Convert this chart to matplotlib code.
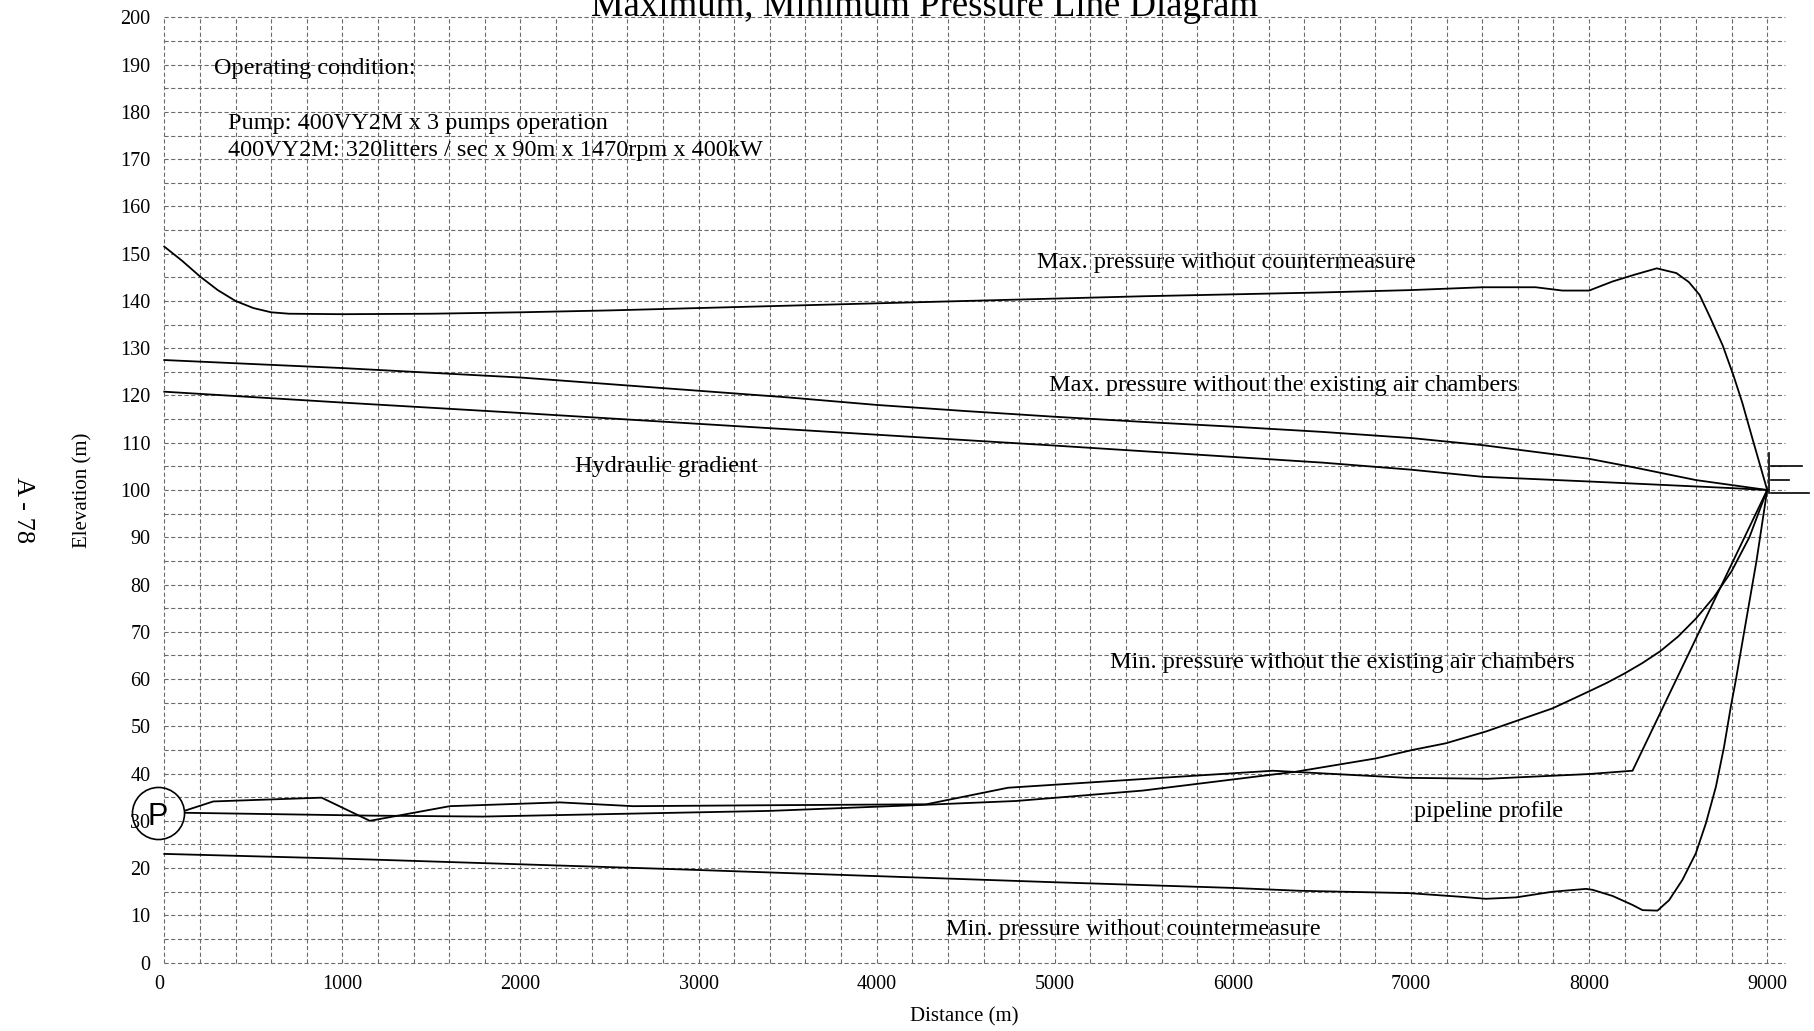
import matplotlib
matplotlib.use("Agg")
import matplotlib.pyplot as plt
from matplotlib.ticker import MultipleLocator

plt.rcParams['font.family'] = ['Liberation Serif', 'DejaVu Serif']
plt.rcParams['lines.scale_dashes'] = False

# ---- surge analysis results (distance in m, elevation in m) ----
max_counter_x = [0, 100, 200, 300, 400, 500, 600, 700, 1000, 1500, 2000, 2500, 3000,
                 3500, 4000, 4500, 5000, 5500, 6000, 6500, 7000, 7400, 7700, 7850,
                 8000, 8130, 8250, 8380, 8490, 8560, 8620, 8680, 8750, 8810, 8860,
                 8920, 9000]
max_counter_y = [151.5, 148.5, 145.2, 142.3, 140.0, 138.5, 137.6, 137.3, 137.2, 137.3,
                 137.6, 138.0, 138.5, 139.0, 139.5, 140.0, 140.5, 141.0, 141.4, 141.8,
                 142.3, 142.9, 142.9, 142.2, 142.2, 144.1, 145.5, 146.9, 145.9, 144.0,
                 141.3, 136.5, 130.6, 124.3, 118.5, 110.5, 100.0]

max_air_x = [0, 1000, 2000, 2500, 3000, 3500, 4000, 4500, 5000, 5500, 6000, 6500,
             7000, 7400, 8000, 8250, 8600, 9000]
max_air_y = [127.5, 125.8, 123.8, 122.4, 121.0, 119.6, 118.0, 116.7, 115.5, 114.4,
             113.4, 112.3, 111.0, 109.5, 106.6, 104.8, 102.1, 100.0]

hgl_x = [0, 1000, 2000, 3000, 4000, 5000, 6000, 6500, 7000, 7400, 8000, 8800, 9000]
hgl_y = [120.8, 118.5, 116.3, 114.0, 111.7, 109.4, 107.0, 105.8, 104.3, 102.8,
         101.8, 100.4, 100.0]

min_air_x = [120, 1154, 1790, 2729, 3399, 4279, 4784, 5494, 6355, 6802, 7009, 7195,
             7421, 7795, 8000, 8100, 8200, 8300, 8400, 8500, 8600, 8700, 8800, 8900,
             9000]
min_air_y = [31.7, 31.1, 30.9, 31.6, 32.1, 33.4, 34.2, 36.4, 40.4, 43.2, 45.0, 46.4,
             48.9, 53.8, 57.4, 59.2, 61.2, 63.4, 65.9, 69.0, 72.8, 77.3, 82.8, 90.0,
             100.0]

profile_x = [120, 275, 883, 1154, 1603, 2221, 2632, 3400, 4279, 4737, 5642, 6224,
             6972, 7430, 8001, 8244, 9000]
profile_y = [32.2, 34.1, 34.9, 30.0, 33.1, 33.9, 33.1, 33.3, 33.5, 37.0, 39.2, 40.6,
             39.1, 38.9, 39.9, 40.6, 100.0]

min_counter_x = [0, 1000, 2000, 2838, 4000, 5000, 6000, 6372, 6989, 7290, 7421, 7590,
                 7795, 7983, 8020, 8132, 8244, 8300, 8384, 8449, 8524, 8599, 8656,
                 8712, 8758, 8796, 8824, 8880, 8940, 9000]
min_counter_y = [23.0, 22.0, 20.8, 19.8, 18.3, 17.0, 15.8, 15.2, 14.7, 13.9, 13.5,
                 13.8, 15.0, 15.6, 15.4, 14.1, 12.2, 11.1, 11.0, 13.2, 17.5, 23.1,
                 29.5, 37.2, 45.7, 54.2, 59.8, 72.0, 85.0, 100.0]

# pump station and delivery tank
pump_x, pump_y = -35, 31.6
tank_x = 9010
tank_wall = [99.3, 107.8]
tank_levels = [105.0, 102.1, 99.3]
tank_level_ends = [9195, 9123, 9236]

x_ticks_major, x_ticks_minor = 1000, 200
y_ticks_major, y_ticks_minor = 10, 5

W, H = 1814, 1031
fig = plt.figure(figsize=(W / 100, H / 100), dpi=100)
fig.patch.set_facecolor('white')
left, right, top, bottom = 164.3, 1785, 17.4, 962.6
ax = fig.add_axes([left / W, 1 - bottom / H, (right - left) / W, (bottom - top) / H])
ax.set_xlim(0, 9100)
ax.set_ylim(0, 200)
for s in ax.spines.values():
    s.set_visible(False)

ax.xaxis.set_major_locator(MultipleLocator(x_ticks_major))
ax.xaxis.set_minor_locator(MultipleLocator(x_ticks_minor))
ax.yaxis.set_major_locator(MultipleLocator(y_ticks_major))
ax.yaxis.set_minor_locator(MultipleLocator(y_ticks_minor))
ax.tick_params(which='both', length=0)
ax.tick_params(axis='y', pad=10, labelsize=14.5)
ax.tick_params(axis='x', pad=9, labelsize=14.5)
ax.grid(True, which='both', color='#6a6a6a', linestyle=(0, (3.0, 1.8)), linewidth=0.8)
ax.set_axisbelow(True)

line_kw = dict(color='black', lw=1.3, solid_joinstyle='round', clip_on=False)
ax.plot(max_counter_x, max_counter_y, **line_kw)
ax.plot(max_air_x, max_air_y, **line_kw)
ax.plot(hgl_x, hgl_y, **line_kw)
ax.plot(min_air_x, min_air_y, **line_kw)
ax.plot(profile_x, profile_y, **line_kw)
ax.plot(min_counter_x, min_counter_y, **line_kw)

# delivery tank symbol
ax.plot([tank_x, tank_x], tank_wall, color='black', lw=1.2, clip_on=False)
for lvl, xe in zip(tank_levels, tank_level_ends):
    ax.plot([tank_x + 10, xe], [lvl, lvl], color='black', lw=1.2, clip_on=False)

# pump symbol
ax.plot([pump_x], [pump_y], marker='o', ms=37.5, mfc='none', mec='black', mew=1.2,
        clip_on=False, zorder=5)
ax.annotate('P', xy=(pump_x, pump_y), xytext=(0, -8.3), textcoords='offset points',
            ha='center', va='baseline', fontsize=22, family=['Liberation Sans', 'DejaVu Sans'],
            annotation_clip=False, zorder=6)

note_kw = dict(fontsize=17.5, ha='left', va='baseline')
ax.text(279, 188.1, 'Operating condition:', **note_kw)
ax.text(358, 176.4, 'Pump: 400VY2M x 3 pumps operation', **note_kw)
ax.text(358, 170.6, '400VY2M: 320litters / sec x 90m x 1470rpm x 400kW', **note_kw)
ax.text(4902, 146.9, 'Max. pressure without countermeasure', **note_kw)
ax.text(4967, 121.0, 'Max. pressure without the existing air chambers', **note_kw)
ax.text(2305, 103.8, 'Hydraulic gradient', **note_kw)
ax.text(5311, 62.3, 'Min. pressure without the existing air chambers', **note_kw)
ax.text(7019, 30.9, 'pipeline profile', **note_kw)
ax.text(4389, 5.9, 'Min. pressure without countermeasure', **note_kw)

fig.text(925 / W, 1 - 16 / H, 'Maximum, Minimum Pressure Line Diagram',
         ha='center', va='baseline', fontsize=26.5)
fig.text(83 / W, 1 - 490 / H, 'Elevation (m)', rotation=90, ha='center', va='center',
         fontsize=15)
fig.text(964 / W, 1 - 1017 / H, 'Distance (m)', ha='center', va='center', fontsize=15)
fig.text(23 / W, 1 - 510 / H, 'A - 78', rotation=270, ha='center', va='center',
         fontsize=19)

fig.canvas.draw()
# keep the dashed grid visible on the outer border lines
for t in (ax.xaxis.get_major_ticks() + ax.xaxis.get_minor_ticks() +
          ax.yaxis.get_major_ticks() + ax.yaxis.get_minor_ticks()):
    t.gridline.set_clip_on(False)
# nudge the x origin label left so it clears the y origin label
for t in ax.xaxis.get_major_ticks():
    if abs(t.get_loc()) < 1e-9:
        t.label1.set_horizontalalignment('right')

fig.savefig('out.png', dpi=100, facecolor='white')
